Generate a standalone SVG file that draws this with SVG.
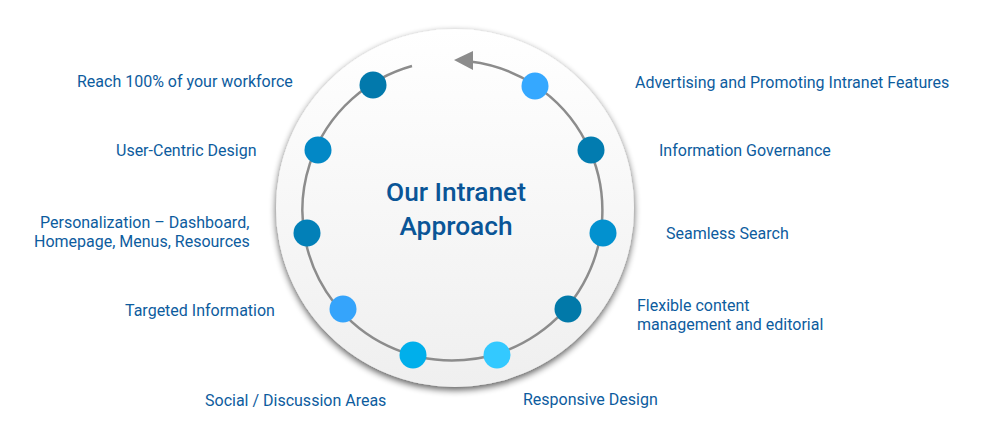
<svg xmlns="http://www.w3.org/2000/svg" width="1003" height="440" viewBox="0 0 1003 440">
<style>
.lbl{font-family:Roboto,"Liberation Sans",sans-serif;font-size:16px;fill:#0d5c9e}
.ttl{font-family:Roboto,"Liberation Sans",sans-serif;font-size:26.3px;font-weight:500;fill:#0a5597;text-anchor:middle}
.ring{fill:none;stroke:#8c8c8c;stroke-width:2.5}
</style>
<defs>
<linearGradient id="bg" x1="0" y1="0" x2="0" y2="1">
<stop offset="0" stop-color="#ffffff"/>
<stop offset="1" stop-color="#efefef"/>
</linearGradient>
<filter id="sh" x="-20%" y="-20%" width="140%" height="140%">
<feGaussianBlur in="SourceAlpha" stdDeviation="3.5"/>
<feOffset dx="0" dy="3" result="b"/>
<feComponentTransfer><feFuncA type="linear" slope="0.65"/></feComponentTransfer>
<feMerge><feMergeNode/><feMergeNode in="SourceGraphic"/></feMerge>
</filter>
</defs>
<g id="hub">
<circle cx="455" cy="208" r="179" fill="url(#bg)" filter="url(#sh)"/>
<text class="ttl" x="456" y="201">Our Intranet</text>
<text class="ttl" x="456" y="235">Approach</text>
</g>
<g id="connectors">
<path class="ring" d="M412,66 A150,150 0 1 0 470,61.5"/>
<polygon points="454,60 473,51 473,70" fill="#8c8c8c"/>
</g>
<g id="n1"><circle cx="373" cy="85" r="13.5" fill="#0279ac"/><text class="lbl" x="77" y="87">Reach 100% of your workforce</text></g>
<g id="n2"><circle cx="318" cy="150" r="13.5" fill="#0288c6"/><text class="lbl" x="116" y="156">User-Centric Design</text></g>
<g id="n3"><circle cx="307" cy="233" r="13.5" fill="#0280b8"/><text class="lbl" x="40" y="228">Personalization – Dashboard,</text><text class="lbl" x="34" y="247">Homepage, Menus, Resources</text></g>
<g id="n4"><circle cx="343" cy="309" r="13.5" fill="#35a4fb"/><text class="lbl" x="125" y="316">Targeted Information</text></g>
<g id="n5"><circle cx="413" cy="355" r="13.5" fill="#00afeb"/><text class="lbl" x="205" y="406">Social / Discussion Areas</text></g>
<g id="n6"><circle cx="497" cy="355" r="13.5" fill="#33c9ff"/><text class="lbl" x="523" y="405">Responsive Design</text></g>
<g id="n7"><circle cx="568" cy="309" r="13.5" fill="#0179a9"/><text class="lbl" x="637" y="311">Flexible content</text><text class="lbl" x="637" y="330">management and editorial</text></g>
<g id="n8"><circle cx="603" cy="233" r="13.5" fill="#0291cf"/><text class="lbl" x="666" y="239">Seamless Search</text></g>
<g id="n9"><circle cx="591" cy="150" r="13.5" fill="#027cb0"/><text class="lbl" x="659" y="156">Information Governance</text></g>
<g id="n10"><circle cx="535" cy="86" r="13.5" fill="#35a8ff"/><text class="lbl" x="635" y="88">Advertising and Promoting Intranet Features</text></g>
</svg>
